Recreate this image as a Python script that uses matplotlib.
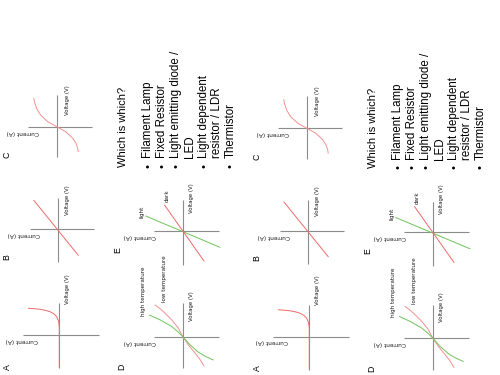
import matplotlib
matplotlib.use('Agg')
import matplotlib.pyplot as plt

W, H = 500, 375

# values, in pixel-sized units from each graph's origin
# current is positive to the left (sheet is rotated), voltage positive upwards
a_current = [0, 0, 0.8, 2.6, 5.5, 9.3, 14, 19.3, 25, 31]
a_voltage = [-32, 8, 14, 18.3, 21.2, 23.3, 24.7, 25.7, 26.3, 26.7]

b_current = [-20, 24.5]
b_voltage = [-26, 29]

c_current = [23, 22, 20, 16, 9, 0, -9, -16, -19.5, -21, -21.5]
c_voltage = [28.5, 24, 18, 11.5, 5, 0, -5, -11.5, -17, -21.5, -25]

d_low_current = [27.7, 23.5, 19.4, 11, 4.4, 0, -5.6, -12.3, -17, -21.3]
d_low_voltage = [31.5, 28.5, 25, 16.7, 8.4, 0, -8.3, -16.6, -22.5, -29.5]
d_high_current = [33.4, 22.7, 11, 4.4, 0, -7.3, -15.6, -22, -30.6]
d_high_voltage = [21.5, 16.7, 10, 4.4, 0, -8.3, -15.6, -19.5, -23.5]

e_dark_current = [18.2, -21.3]
e_dark_voltage = [25.7, -30.3]
e_light_current = [37, -37.3]
e_light_voltage = [14.7, -16.6]

items = ['Filament Lamp', 'Fixed Resistor', 'Light emitting diode /', 'LED',
         'Light dependent', 'resistor / LDR', 'Thermistor']
bulleted = [True, True, True, False, True, False, True]

RED = '#ee6a6a'
PINK = '#f29090'
GREEN = '#6fc45a'
GREY = '#8c8c8c'

# graph layout: origin (px) and axis extents left, right, up, down (px)
graphs = {
    'A': dict(org=(59.3, 335), ext=(36.3, 39.7, 32, 33),
              letter=(7, 367), cur=(22, 340), volt=(67, 289)),
    'B': dict(org=(58.3, 229.3), ext=(28.3, 35.7, 31.3, 32.7),
              letter=(7, 257), cur=(24, 235), volt=(67, 200)),
    'C': dict(org=(56.7, 126.7), ext=(28.7, 35.3, 31.7, 30.3),
              letter=(7, 155), cur=(23, 132), volt=(67, 100)),
    'D': dict(org=(182.7, 336.5), ext=(28.7, 36.3, 33.5, 31.5),
              letter=(122, 367), cur=(140, 342), volt=(192, 306)),
    'E': dict(org=(182.7, 230.7), ext=(28.7, 36.3, 30.7, 34),
              letter=(118, 250), cur=(140, 236), volt=(192, 198)),
}
curves = {
    'A': [(a_current, a_voltage, RED)],
    'B': [(b_current, b_voltage, RED)],
    'C': [(c_current, c_voltage, PINK)],
    'D': [(d_low_current, d_low_voltage, PINK), (d_high_current, d_high_voltage, GREEN)],
    'E': [(e_light_current, e_light_voltage, GREEN), (e_dark_current, e_dark_voltage, RED)],
}
extra = [('high temperature', 143.5, 291), ('low temperature', 164.5, 279),
         ('light', 142, 212), ('dark', 167, 196)]

fig = plt.figure(figsize=(5, 3.75), dpi=100)
fig.patch.set_facecolor('white')
txt = fig.add_axes([0, 0, 1, 1])
txt.set_xlim(0, W)
txt.set_ylim(H, 0)
txt.axis('off')

HALF = 45


def draw_sheet(ox, oy):
    for key, g in graphs.items():
        cx, cy = g['org']
        cx += ox
        cy += oy
        ax = fig.add_axes([(cx - HALF) / W, 1 - (cy + HALF) / H, 2 * HALF / W, 2 * HALF / H])
        ax.set_xlim(HALF, -HALF)
        ax.set_ylim(-HALF, HALF)
        ax.axis('off')
        left, right, up, down = g['ext']
        ax.hlines(0, -right, left, color=GREY, lw=0.8)
        ax.vlines(0, -down, up, color=GREY, lw=0.8)
        for cur, volt, col in curves[key]:
            ax.plot(cur, volt, color=col, lw=0.7, solid_capstyle='round')

        lx, ly = g['letter']
        txt.text(lx + ox, ly + oy, key, rotation=90, fontsize=6.3,
                 family='Liberation Sans', ha='center', va='center')
        x, y = g['cur']
        txt.text(x + ox, y + oy, 'Current (A)', rotation=180, fontsize=4.2,
                 ha='center', va='center', color='#1a1a1a')
        x, y = g['volt']
        txt.text(x + ox, y + oy, 'Voltage (V)', rotation=90, fontsize=3.9,
                 ha='center', va='center', color='#1a1a1a')

    for s, x, y in extra:
        txt.text(x + ox, y + oy, s, rotation=90, fontsize=4.1,
                 ha='center', va='center', color='#1a1a1a')

    txt.text(123 + ox, 167 + oy, 'Which is which?', rotation=90, rotation_mode='anchor',
             fontsize=8.0, family='Liberation Sans', ha='left', va='center')
    xs = [148.3, 162.3, 176, 190, 204, 217.3, 230.7]
    for s, b, x in zip(items, bulleted, xs):
        txt.text(x + ox, 158 + oy, s, rotation=90, rotation_mode='anchor',
                 fontsize=8.3, family='Liberation Sans', ha='left', va='center')
        if b:
            txt.text(x + ox, 165.5 + oy, '•', rotation=90, rotation_mode='anchor',
                     fontsize=8, family='Liberation Sans', ha='center', va='center')


draw_sheet(0, 0)
draw_sheet(250, 1.5)

fig.savefig('out.png', dpi=100)
